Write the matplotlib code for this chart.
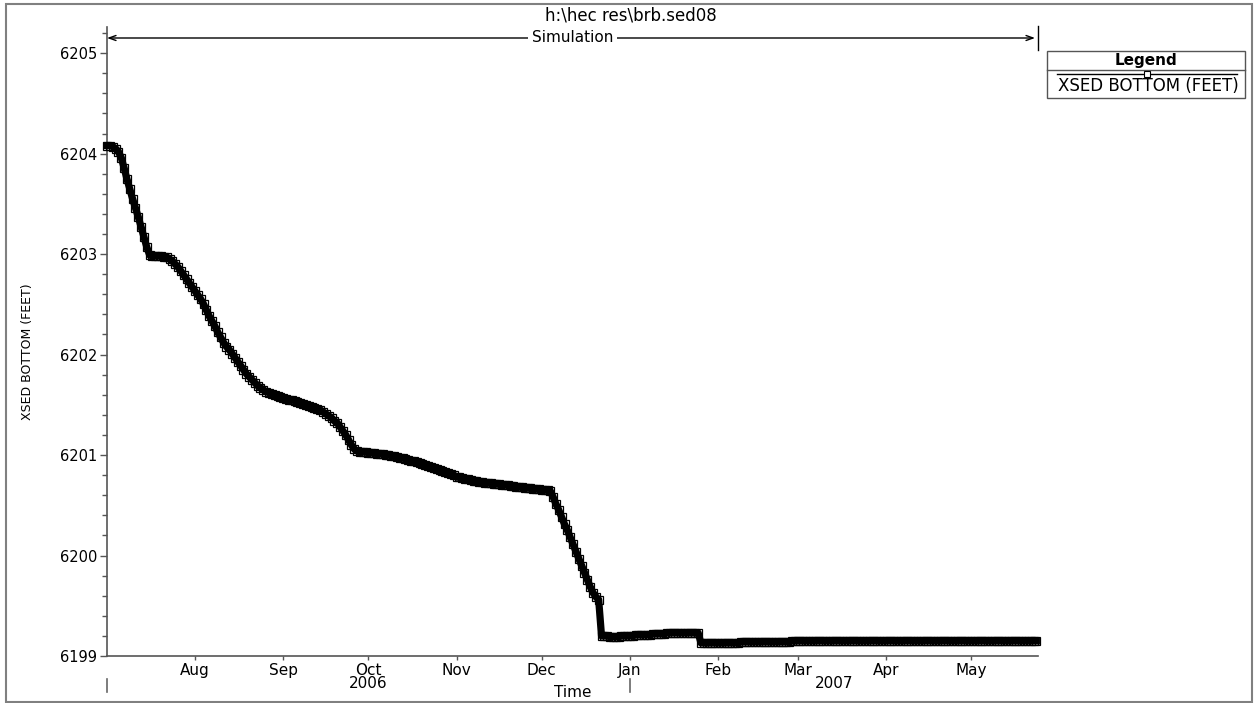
import pandas as pd
import matplotlib
matplotlib.use("Agg")
import matplotlib.pyplot as plt
import matplotlib.dates as mdates
import matplotlib.transforms as mtransforms
from matplotlib.ticker import MultipleLocator, FormatStrFormatter
from matplotlib.patches import Rectangle
from matplotlib.lines import Line2D

plt.rcParams['font.family'] = ['DejaVu Sans']

# ---------------------------------------------------------------- data
title_text = "h:\\hec res\\brb.sed08"
series_label = "XSED BOTTOM (FEET)"
window_label = "Simulation"
start_date = "2006-07-01"
axis_end = "2007-05-24 14:00"

# daily bed elevation (ft), starting at start_date
xsed_bottom_ft = [
    6204.08, 6204.08, 6204.07, 6204.05, 6204.02, 6203.96, 6203.86, 6203.75, 6203.65, 6203.55,
    6203.46, 6203.37, 6203.27, 6203.17, 6203.07, 6202.99, 6202.98, 6202.98, 6202.98, 6202.98,
    6202.97, 6202.97, 6202.95, 6202.93, 6202.90, 6202.87, 6202.83, 6202.79, 6202.75, 6202.71,
    6202.67, 6202.63, 6202.59, 6202.55, 6202.50, 6202.44, 6202.38, 6202.33, 6202.28, 6202.22,
    6202.17, 6202.12, 6202.08, 6202.05, 6202.01, 6201.97, 6201.93, 6201.89, 6201.85, 6201.81,
    6201.78, 6201.75, 6201.72, 6201.69, 6201.67, 6201.65, 6201.63, 6201.62, 6201.61, 6201.60,
    6201.59, 6201.58, 6201.57, 6201.56, 6201.55, 6201.55, 6201.54, 6201.53, 6201.52, 6201.51,
    6201.50, 6201.49, 6201.48, 6201.47, 6201.46, 6201.45, 6201.43, 6201.41, 6201.39, 6201.37,
    6201.34, 6201.32, 6201.28, 6201.24, 6201.20, 6201.15, 6201.10, 6201.06, 6201.04, 6201.03,
    6201.03, 6201.03, 6201.02, 6201.02, 6201.02, 6201.01, 6201.01, 6201.01, 6201.00, 6201.00,
    6200.99, 6200.99, 6200.98, 6200.97, 6200.97, 6200.96, 6200.95, 6200.94, 6200.94, 6200.93,
    6200.92, 6200.91, 6200.90, 6200.89, 6200.88, 6200.87, 6200.86, 6200.85, 6200.84, 6200.83,
    6200.82, 6200.81, 6200.80, 6200.78, 6200.78, 6200.77, 6200.76, 6200.76, 6200.75, 6200.74,
    6200.74, 6200.73, 6200.73, 6200.72, 6200.72, 6200.72, 6200.71, 6200.71, 6200.71, 6200.70,
    6200.70, 6200.70, 6200.69, 6200.69, 6200.68, 6200.68, 6200.68, 6200.67, 6200.67, 6200.67,
    6200.66, 6200.66, 6200.66, 6200.65, 6200.65, 6200.65, 6200.64, 6200.58, 6200.51, 6200.45,
    6200.38, 6200.31, 6200.25, 6200.18, 6200.11, 6200.04, 6199.97, 6199.90, 6199.83, 6199.76,
    6199.69, 6199.63, 6199.59, 6199.56, 6199.20, 6199.20, 6199.20, 6199.19, 6199.19, 6199.19,
    6199.19, 6199.20, 6199.20, 6199.20, 6199.20, 6199.20, 6199.21, 6199.21, 6199.21, 6199.21,
    6199.21, 6199.21, 6199.22, 6199.22, 6199.22, 6199.22, 6199.22, 6199.23, 6199.23, 6199.23,
    6199.23, 6199.23, 6199.23, 6199.23, 6199.23, 6199.23, 6199.23, 6199.23, 6199.23, 6199.13,
    6199.13, 6199.13, 6199.13, 6199.13, 6199.13, 6199.13, 6199.13, 6199.13, 6199.13, 6199.13,
    6199.13, 6199.13, 6199.13, 6199.14, 6199.14, 6199.14, 6199.14, 6199.14, 6199.14, 6199.14,
    6199.14, 6199.14, 6199.14, 6199.14, 6199.14, 6199.14, 6199.14, 6199.14, 6199.14, 6199.14,
    6199.14, 6199.15, 6199.15, 6199.15, 6199.15, 6199.15, 6199.15, 6199.15, 6199.15, 6199.15,
    6199.15, 6199.15, 6199.15, 6199.15, 6199.15, 6199.15, 6199.15, 6199.15, 6199.15, 6199.15,
    6199.15, 6199.15, 6199.15, 6199.15, 6199.15, 6199.15, 6199.15, 6199.15, 6199.15, 6199.15,
    6199.15, 6199.15, 6199.15, 6199.15, 6199.15, 6199.15, 6199.15, 6199.15, 6199.15, 6199.15,
    6199.15, 6199.15, 6199.15, 6199.15, 6199.15, 6199.15, 6199.15, 6199.15, 6199.15, 6199.15,
    6199.15, 6199.15, 6199.15, 6199.15, 6199.15, 6199.15, 6199.15, 6199.15, 6199.15, 6199.15,
    6199.15, 6199.15, 6199.15, 6199.15, 6199.15, 6199.15, 6199.15, 6199.15, 6199.15, 6199.15,
    6199.15, 6199.15, 6199.15, 6199.15, 6199.15, 6199.15, 6199.15, 6199.15, 6199.15, 6199.15,
    6199.15, 6199.15, 6199.15, 6199.15, 6199.15, 6199.15, 6199.15, 6199.15,
]

month_ticks = ["2006-08-01", "2006-09-01", "2006-10-01", "2006-11-01", "2006-12-01",
               "2007-01-01", "2007-02-01", "2007-03-01", "2007-04-01", "2007-05-01"]
month_labels = ["Aug", "Sep", "Oct", "Nov", "Dec", "Jan", "Feb", "Mar", "Apr", "May"]
year_labels = ["2006", "2007"]
year_starts = ["2006-07-01", "2007-01-01"]

y_min, y_max = 6199, 6205.26

# ---------------------------------------------------------------- figure
W, H = 1258, 703
fig = plt.figure(figsize=(W / 100, H / 100), dpi=100)
fig.patch.set_facecolor("white")


def fx(px):
    return px / W


def fy(py):
    return 1 - py / H


ax = fig.add_axes([fx(107), fy(656), fx(1038) - fx(107), fy(27) - fy(656)])

dates = pd.date_range(start_date, periods=len(xsed_bottom_ft), freq="D")
ax.plot(dates, xsed_bottom_ft, color="black", lw=5.2, marker="s", ms=6.2,
        mfc="none", mec="black", mew=0.9, clip_on=False, zorder=3)

x0 = pd.Timestamp(start_date)
x1 = pd.Timestamp(axis_end)
ax.set_xlim(x0, x1)
ax.set_ylim(y_min, y_max)

for side in ("top", "right"):
    ax.spines[side].set_visible(False)
for side in ("left", "bottom"):
    ax.spines[side].set_color("#555555")
    ax.spines[side].set_linewidth(1.2)

# y axis
ax.yaxis.set_major_locator(MultipleLocator(1))
ax.yaxis.set_minor_locator(MultipleLocator(0.2))
ax.yaxis.set_major_formatter(FormatStrFormatter("%d"))
ax.tick_params(axis="y", which="major", direction="out", length=5, width=1,
               color="#555555", labelsize=10.5, pad=2)
ax.tick_params(axis="y", which="minor", direction="out", length=3.6, width=1,
               color="#555555")

# x axis: month ticks
ax.set_xticks(pd.to_datetime(month_ticks))
ax.set_xticklabels(month_labels)
ax.xaxis.set_minor_locator(matplotlib.ticker.NullLocator())
ax.tick_params(axis="x", which="major", direction="out", length=3, width=1,
               color="#555555", labelsize=11, pad=2)

blend = mtransforms.blended_transform_factory(ax.transData, ax.transAxes)

# year labels centred on each year's span, with separators at year starts
bounds = [pd.Timestamp(s) for s in year_starts] + [x1]
for i, yr in enumerate(year_labels):
    a = max(bounds[i], x0)
    b = min(bounds[i + 1], x1)
    mid = a + (b - a) / 2
    ax.text(mdates.date2num(mid), -0.043, yr, transform=blend,
            ha="center", va="center", fontsize=11)
for s in year_starts:
    xs = mdates.date2num(pd.Timestamp(s))
    ax.add_line(Line2D([xs, xs], [-0.036, -0.057], transform=blend,
                       color="#666666", lw=1.2, clip_on=False))

ax.text(0.5, -0.058, "Time", transform=ax.transAxes, ha="center", va="center",
        fontsize=11)

# simulation window arrow across the top
y_arrow = (656 - 38) / 629
ax.annotate("", xy=(0.0, y_arrow), xytext=(0.9968, y_arrow),
            xycoords="axes fraction", textcoords="axes fraction",
            arrowprops=dict(arrowstyle="<->,head_length=0.5,head_width=0.18",
                            color="black", lw=1, shrinkA=0, shrinkB=0))
ax.add_line(Line2D([1.0, 1.0], [(656 - 26) / 629, (656 - 50) / 629],
                   transform=ax.transAxes, color="black", lw=1, clip_on=False))
ax.text(0.5, y_arrow, window_label, transform=ax.transAxes, ha="center",
        va="center", fontsize=11,
        bbox=dict(fc="white", ec="none", pad=2.5))

# titles
fig.text(fx(631), fy(15), title_text, ha="center", va="center", fontsize=12)
fig.text(fx(28), fy(352), series_label, rotation=90, ha="center", va="center",
         fontsize=9)

# outer frame
fig.add_artist(Rectangle((fx(6), fy(702)), fx(1252) - fx(6), fy(4) - fy(702),
                         transform=fig.transFigure, fill=False,
                         ec="#808080", lw=1.5))

# legend panel
fig.add_artist(Rectangle((fx(1047), fy(98)), fx(1245) - fx(1047), fy(51) - fy(98),
                         transform=fig.transFigure, fill=False,
                         ec="#555555", lw=1))
fig.add_artist(Line2D([fx(1047), fx(1245)], [fy(70), fy(70)],
                      transform=fig.transFigure, color="#555555", lw=1))
fig.text(fx(1146), fy(60.5), "Legend", ha="center", va="center",
         fontsize=11, fontweight="bold")
fig.add_artist(Line2D([fx(1057), fx(1237)], [fy(74), fy(74)],
                      transform=fig.transFigure, color="black", lw=1))
fig.add_artist(Line2D([fx(1147)], [fy(74)], transform=fig.transFigure,
                      marker="s", ms=4, mfc="white", mec="black", mew=0.8,
                      ls="none"))
fig.text(fx(1148), fy(86), series_label, ha="center", va="center", fontsize=12)

fig.savefig("out.png", dpi=100, facecolor="white")
